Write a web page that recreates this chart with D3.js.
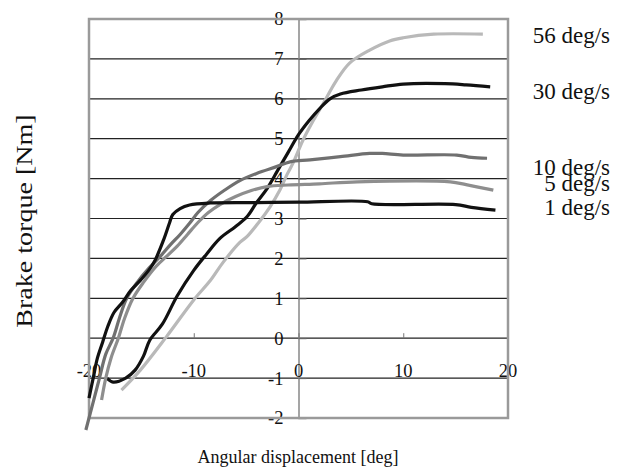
<!DOCTYPE html>
<meta charset="utf-8">
<style>
body { margin: 0; background: #fff; }
text { font-family: "Liberation Serif", "Times New Roman", serif; fill: #111; }
</style>
<body>
<script src="https://cdn.jsdelivr.net/npm/d3@7"></script>
<script>

// tick values
var xTicks = [-20, -10, 0, 10, 20];
var yTicks = [-2, -1, 0, 1, 2, 3, 4, 5, 6, 7, 8];

// series names (right hand labels)
var seriesNames = ["56 deg/s", "30 deg/s", "10 deg/s", "5 deg/s", "1 deg/s"];

// curves, [angle deg, torque Nm]
var s56 = [[-16.9,-1.3],[-15.1,-0.8],[-12.6,0.04],[-10,0.96],[-8.4,1.45],[-7.2,1.9],[-5.6,2.4],[-4.9,2.55],
  [-3.8,2.9],[-2.7,3.3],[-1.8,3.7],[-1.1,4.1],[-0.5,4.4],[0.4,4.95],[1.4,5.45],[2.4,5.9],[3.6,6.45],
  [4.9,6.9],[6.8,7.22],[8.7,7.45],[10,7.53],[12.9,7.62],[17.6,7.62]];
var s30 = [[-18.3,-1.0],[-17.7,-1.1],[-16.5,-1.0],[-15.6,-0.8],[-14.8,-0.45],[-14.2,-0.05],[-13,0.35],
  [-11.6,1.05],[-10,1.7],[-8.8,2.1],[-7.5,2.5],[-6,2.8],[-4.9,3.05],[-4,3.4],[-3,3.75],[-2,4.2],
  [-1,4.65],[0,5.1],[1,5.45],[2,5.75],[3,6.0],[4,6.12],[6,6.22],[8,6.3],[10,6.37],[14,6.38],[16,6.35],[18.3,6.3]];
var s10 = [[-20.3,-2.3],[-19.6,-1.6],[-19.0,-1.0],[-18.4,-0.4],[-17.7,0.0],[-17.1,0.5],[-16.4,1.0],
  [-15.4,1.4],[-14.3,1.75],[-13.2,2.05],[-12.2,2.35],[-11.3,2.6],[-10.4,2.88],[-9.6,3.15],[-8.4,3.45],
  [-7,3.72],[-5.6,3.95],[-4,4.13],[-2.1,4.3],[-0.8,4.42],[1.1,4.47],[4,4.55],
  [6.8,4.63],[8,4.63],[10,4.59],[15.1,4.59],[16.5,4.53],[18,4.51]];
var s5 = [[-18.8,-1.55],[-18.4,-1.0],[-17.9,-0.5],[-17.2,0.0],[-16.6,0.5],[-15.8,1.0],[-14.8,1.4],
  [-13.6,1.8],[-12.6,2.05],[-11.6,2.3],[-10.6,2.6],[-9.6,2.9],[-8.6,3.15],[-7.5,3.35],[-6,3.55],
  [-4.5,3.7],[-3,3.8],[-1,3.84],[2,3.87],[5.6,3.92],[14.5,3.92],[16,3.85],[18.6,3.71]];
var s1 = [[-20,-1.5],[-19.6,-1.0],[-19.2,-0.5],[-18.7,-0.1],[-18.2,0.3],[-17.6,0.65],[-16.8,0.9],
  [-16,1.2],[-15.1,1.45],[-14.3,1.7],[-13.7,1.95],[-12.9,2.45],[-12.3,2.9],[-12,3.1],[-11.3,3.25],
  [-10.4,3.34],[-8.4,3.39],[-4,3.4],[0,3.41],[6.6,3.42],[7,3.37],[15,3.35],[16.5,3.28],[18.8,3.21]];

// label positions (torque level the label sits at)
var labelY = [7.6, 6.2, 4.3, 3.9, 3.3];

var colours = ["#b9b9b9", "#111111", "#707070", "#8e8e8e", "#111111"];

var width = 624, height = 470;
var plotLeft = 89, plotRight = 508, plotTop = 19, plotBottom = 418;

var x = d3.scaleLinear().domain([-20, 20]).range([plotLeft, plotRight]);
var y = d3.scaleLinear().domain([-2, 8]).range([plotBottom, plotTop]);

var svg = d3.select("body").append("svg")
    .attr("width", width)
    .attr("height", height);

// horizontal grid lines
svg.append("g")
  .selectAll("line")
  .data(yTicks.filter(function(d) { return d > -2 && d < 8; }))
  .enter().append("line")
    .attr("x1", plotLeft).attr("x2", plotRight)
    .attr("y1", function(d) { return y(d); })
    .attr("y2", function(d) { return y(d); })
    .style("stroke", "#222")
    .style("stroke-width", 1.2);

// y axis at x = 0
var yAxis = d3.axisRight(y).tickValues(yTicks).tickSize(8).tickFormat("");
var gy = svg.append("g").attr("transform", "translate(" + x(0) + ",0)").call(yAxis);
gy.select(".domain").style("stroke", "#888").style("stroke-width", 1.5);
gy.selectAll(".tick line").style("stroke", "#666");

// y tick labels to the left of the axis
svg.append("g")
  .selectAll("text")
  .data(yTicks)
  .enter().append("text")
    .attr("x", x(0) - 15)
    .attr("y", function(d) { return y(d); })
    .attr("dy", "0.35em")
    .attr("text-anchor", "end")
    .style("font-size", "18.5px")
    .text(function(d) { return d; });

// x axis at y = 0, ticks point up
var xAxis = d3.axisTop(x).tickValues(xTicks).tickSize(5).tickFormat("");
var gx = svg.append("g").attr("transform", "translate(0," + y(0) + ")").call(xAxis);
gx.select(".domain").remove();
gx.selectAll(".tick line").style("stroke", "#777");

svg.append("g")
  .selectAll("text")
  .data(xTicks)
  .enter().append("text")
    .attr("x", function(d) { return x(d); })
    .attr("y", 377)
    .attr("text-anchor", "middle")
    .style("font-size", "18.5px")
    .text(function(d) { return d; });

// plot frame
svg.append("rect")
    .attr("x", plotLeft).attr("y", plotTop)
    .attr("width", plotRight - plotLeft).attr("height", plotBottom - plotTop)
    .style("fill", "none")
    .style("stroke", "#9a9a9a")
    .style("stroke-width", 2.5);

// curves
var line = d3.line()
    .x(function(d) { return x(d[0]); })
    .y(function(d) { return y(d[1]); })
    .curve(d3.curveCatmullRom);

var series = [s56, s30, s10, s5, s1];

svg.append("g")
  .selectAll("path")
  .data(series)
  .enter().append("path")
    .attr("d", line)
    .style("fill", "none")
    .style("stroke", function(d, i) { return colours[i]; })
    .style("stroke-width", 3.2)
    .style("stroke-linejoin", "round");

// series labels on the right
svg.append("g")
  .selectAll("text")
  .data(seriesNames)
  .enter().append("text")
    .attr("x", 610)
    .attr("y", function(d, i) { return y(labelY[i]); })
    .attr("dy", "0.35em")
    .attr("text-anchor", "end")
    .style("font-size", "23px")
    .text(function(d) { return d; });

// axis titles
svg.append("text")
    .attr("x", 298)
    .attr("y", 463)
    .attr("text-anchor", "middle")
    .style("font-size", "18px")
    .text("Angular displacement [deg]");

// the scanned title is drawn long and thin, so stretch it along its baseline
svg.append("text")
    .attr("transform", "translate(32,221) rotate(-90) scale(1.22,1)")
    .attr("text-anchor", "middle")
    .style("font-size", "23px")
    .text("Brake torque [Nm]");

</script>
</body>
